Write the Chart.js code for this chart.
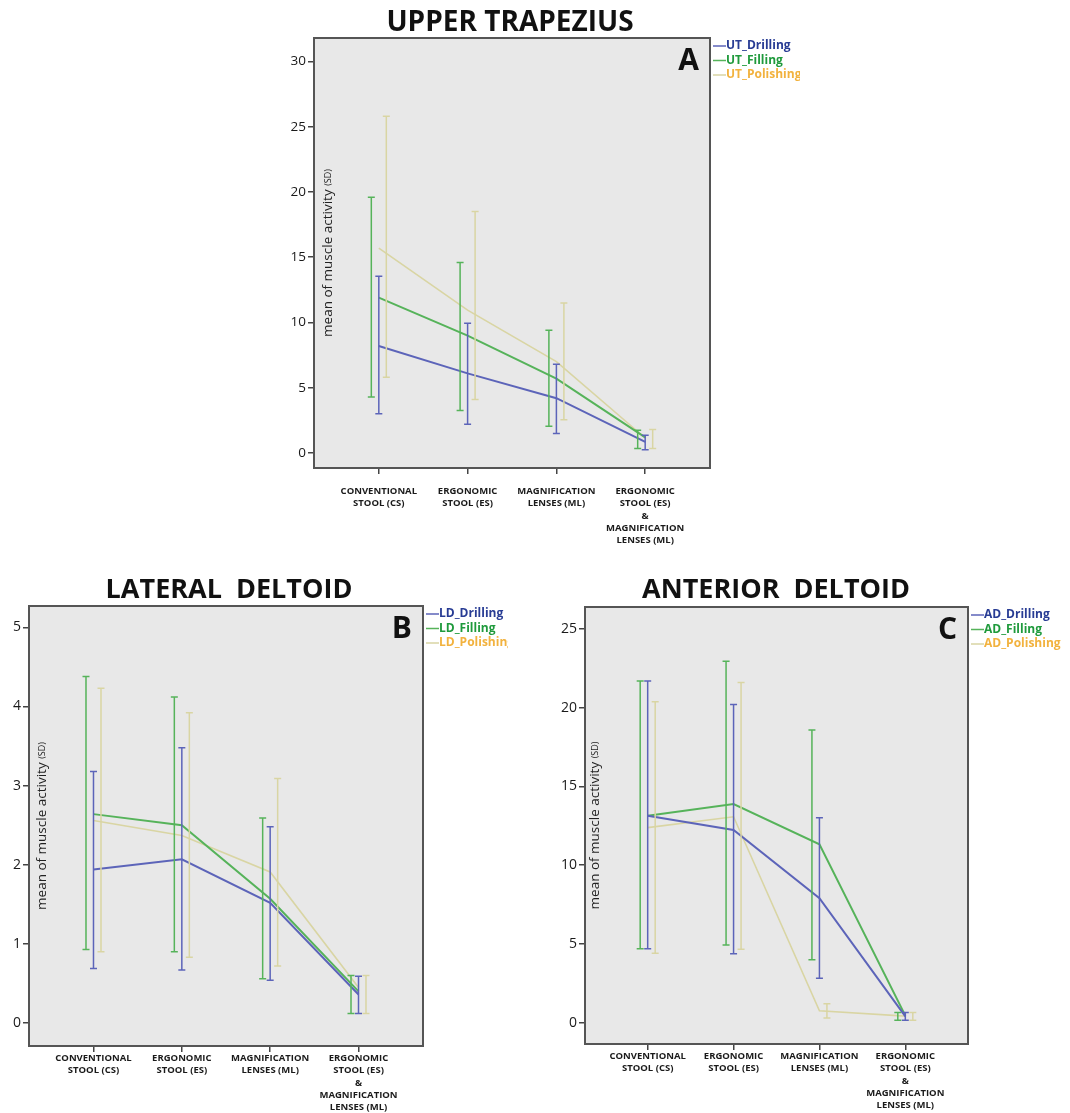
<!DOCTYPE html>
<html>
<head>
<meta charset="utf-8">
<script src="https://cdn.jsdelivr.net/npm/chart.js@4.4.1/dist/chart.umd.min.js"></script>
<style>
    body { margin: 0; background: #ffffff; width: 1070px; height: 1113px; position: relative; overflow: hidden; }
    canvas { position: absolute; }
</style>
</head>
<body>
<canvas id="chartA" width="540" height="560" style="left:260px; top:0px;"></canvas>
<canvas id="chartB" width="508" height="553" style="left:0px; top:560px;"></canvas>
<canvas id="chartC" width="530" height="553" style="left:540px; top:560px;"></canvas>
<script>
// Categories shared by the three panels
const categories = [
    ['CONVENTIONAL', 'STOOL (CS)'],
    ['ERGONOMIC', 'STOOL (ES)'],
    ['MAGNIFICATION', 'LENSES (ML)'],
    ['ERGONOMIC', 'STOOL (ES)', '&', 'MAGNIFICATION', 'LENSES (ML)']
];
const categoryTicks = [0, 1, 2, 3];

// Upper trapezius (A)
const utLabels = ['UT_Drilling', 'UT_Filling', 'UT_Polishing'];
const utDrillMean = [8.2, 6.1, 4.2, 0.85];
const utDrillLow = [3.0, 2.2, 1.5, 0.25];
const utDrillHigh = [13.55, 9.95, 6.8, 1.35];
const utFillMean = [11.9, 9.0, 5.7, 1.2];
const utFillLow = [4.3, 3.25, 2.05, 0.35];
const utFillHigh = [19.6, 14.6, 9.4, 1.75];
const utPolMean = [15.7, 10.95, 7.0, 1.15];
const utPolLow = [5.8, 4.1, 2.55, 0.35];
const utPolHigh = [25.8, 18.5, 11.5, 1.8];
const utTicks = [0, 5, 10, 15, 20, 25, 30];

// Lateral deltoid (B)
const ldLabels = ['LD_Drilling', 'LD_Filling', 'LD_Polishing'];
const ldDrillMean = [1.94, 2.07, 1.52, 0.36];
const ldDrillLow = [0.69, 0.67, 0.54, 0.12];
const ldDrillHigh = [3.18, 3.48, 2.48, 0.59];
const ldFillMean = [2.64, 2.5, 1.57, 0.4];
const ldFillLow = [0.93, 0.9, 0.56, 0.12];
const ldFillHigh = [4.38, 4.12, 2.59, 0.6];
const ldPolMean = [2.56, 2.37, 1.91, 0.45];
const ldPolLow = [0.9, 0.83, 0.72, 0.12];
const ldPolHigh = [4.23, 3.92, 3.09, 0.6];
const ldTicks = [0, 1, 2, 3, 4, 5];

// Anterior deltoid (C)
const adLabels = ['AD_Drilling', 'AD_Filling', 'AD_Polishing'];
const adDrillMean = [13.14, 12.23, 7.9, 0.4];
const adDrillLow = [4.69, 4.37, 2.83, 0.15];
const adDrillHigh = [21.69, 20.19, 13.01, 0.65];
const adFillMean = [13.14, 13.88, 11.32, 0.45];
const adFillLow = [4.69, 4.94, 3.99, 0.15];
const adFillHigh = [21.69, 22.94, 18.57, 0.65];
const adPolMean = [12.38, 13.07, 0.76, 0.42];
const adPolLow = [4.41, 4.67, 0.3, 0.15];
const adPolHigh = [20.36, 21.59, 1.2, 0.65];
const adTicks = [0, 5, 10, 15, 20, 25];

const lineColors = ['#5c64b9', '#56b35a', '#d9d5a3'];
const legendTextColors = ['#283c94', '#1f9a3c', '#f2b23e'];
const lineWidths = [2, 2, 1.6];
const barOffsets = [0, -7.5, 7.5];
const FONT = "'Open Sans', 'DejaVu Sans', sans-serif";

// Background, frame, title, panel letter, y title and legend
const panelPlugin = {
    id: 'panel',
    beforeDraw(chart, args, opts) {
        const { ctx, chartArea: a } = chart;
        ctx.save();
        ctx.fillStyle = '#e8e8e8';
        ctx.fillRect(a.left, a.top, a.right - a.left, a.bottom - a.top);
        ctx.restore();
    },
    afterDraw(chart, args, opts) {
        const { ctx, chartArea: a } = chart;
        ctx.save();
        ctx.strokeStyle = '#555555';
        ctx.lineWidth = 2;
        ctx.strokeRect(a.left, a.top, a.right - a.left, a.bottom - a.top);

        ctx.fillStyle = '#111111';
        ctx.font = `bold ${opts.titleSize}px ${FONT}`;
        ctx.textAlign = 'center';
        ctx.textBaseline = 'middle';
        ctx.fillText(opts.title, opts.titleX, opts.titleY);

        ctx.font = `bold 30px ${FONT}`;
        ctx.textAlign = 'right';
        ctx.textBaseline = 'alphabetic';
        ctx.fillText(opts.letter, a.right - 11, a.top + 32);

        // y title sits inside the frame
        ctx.translate(a.left + opts.yTitleDx, (a.top + a.bottom) / 2);
        ctx.rotate(-Math.PI / 2);
        ctx.fillStyle = '#222222';
        ctx.font = `13.5px ${FONT}`;
        const main = 'mean of muscle activity ';
        const mw = ctx.measureText(main).width;
        ctx.font = `9px ${FONT}`;
        const sw = ctx.measureText('(SD)').width;
        ctx.textAlign = 'left';
        ctx.textBaseline = 'middle';
        ctx.font = `13.5px ${FONT}`;
        ctx.fillText(main, -(mw + sw) / 2, 0);
        ctx.font = `9px ${FONT}`;
        ctx.fillText('(SD)', -(mw + sw) / 2 + mw, 0);
        ctx.setTransform(1, 0, 0, 1, 0, 0);

        // legend
        ctx.font = `bold 12px ${FONT}`;
        ctx.textBaseline = 'middle';
        ctx.textAlign = 'left';
        opts.labels.forEach((lab, i) => {
            const y = a.top + 8 + i * 14.5;
            ctx.strokeStyle = lineColors[i];
            ctx.lineWidth = 1.5;
            ctx.beginPath();
            ctx.moveTo(a.right + 3, y);
            ctx.lineTo(a.right + 16, y);
            ctx.stroke();
            ctx.fillStyle = legendTextColors[i];
            ctx.fillText(lab, a.right + 16, y);
        });
        ctx.restore();
    }
};

// Dodged error bars drawn from the low/high arrays
const errorBarPlugin = {
    id: 'errorBars',
    afterDatasetsDraw(chart) {
        const { ctx, scales: { x, y } } = chart;
        ctx.save();
        chart.data.datasets.forEach((ds, i) => {
            ctx.strokeStyle = lineColors[i];
            ctx.lineWidth = 1.5;
            ds.low.forEach((lo, j) => {
                const px = x.getPixelForValue(j) + barOffsets[i];
                const yl = y.getPixelForValue(lo);
                const yh = y.getPixelForValue(ds.high[j]);
                ctx.beginPath();
                ctx.moveTo(px, yl); ctx.lineTo(px, yh);
                ctx.moveTo(px - 3.5, yl); ctx.lineTo(px + 3.5, yl);
                ctx.moveTo(px - 3.5, yh); ctx.lineTo(px + 3.5, yh);
                ctx.stroke();
            });
        });
        ctx.restore();
    }
};

function makePanel(id, p) {
    const toPts = (arr) => arr.map((v, i) => ({ x: i, y: v }));
    const datasets = p.means.map((m, i) => ({
        label: p.labels[i],
        data: toPts(m),
        low: p.lows[i],
        high: p.highs[i],
        borderColor: lineColors[i],
        borderWidth: lineWidths[i],
        pointRadius: 0,
        tension: 0,
        fill: false
    }));
    // polishing drawn underneath
    datasets[2].order = 3;
    datasets[1].order = 2;
    datasets[0].order = 1;

    return new Chart(document.getElementById(id), {
        type: 'line',
        data: { datasets },
        options: {
            responsive: false,
            animation: false,
            layout: { padding: { top: p.padTop, right: p.padRight, left: 0, bottom: 0 } },
            plugins: {
                legend: { display: false },
                tooltip: { enabled: false },
                panel: {
                    title: p.title, titleX: p.titleX, titleY: p.titleY, titleSize: p.titleSize,
                    letter: p.letter, labels: p.labels, yTitleDx: p.yTitleDx
                }
            },
            scales: {
                x: {
                    type: 'linear',
                    min: -0.73,
                    max: 3.73,
                    afterFit: (s) => { s.height = p.xHeight; },
                    afterBuildTicks: (s) => { s.ticks = categoryTicks.map(v => ({ value: v })); },
                    border: { display: false },
                    grid: { drawOnChartArea: false, drawTicks: true, tickLength: 6, color: '#444444', lineWidth: 1.5 },
                    ticks: {
                        autoSkip: false,
                        maxRotation: 0,
                        padding: p.xPad,
                        color: '#1a1a1a',
                        font: { family: FONT, size: 9.5, weight: 'bold', lineHeight: 1.3 },
                        callback: (v) => categories[v]
                    }
                },
                y: {
                    min: p.yMin,
                    max: p.yMax,
                    afterFit: (s) => { s.width = p.yWidth; },
                    afterBuildTicks: (s) => { s.ticks = p.yTicks.map(v => ({ value: v })); },
                    border: { display: false },
                    grid: { drawOnChartArea: false, drawTicks: true, tickLength: 6, color: '#444444', lineWidth: 1.5 },
                    ticks: {
                        padding: 2,
                        color: '#1a1a1a',
                        font: { family: FONT, size: p.tickSize }
                    }
                }
            }
        },
        plugins: [panelPlugin, errorBarPlugin]
    });
}

makePanel('chartA', {
    title: 'UPPER TRAPEZIUS', titleX: 250, titleY: 23, titleSize: 28, letter: 'A', labels: utLabels,
    means: [utDrillMean, utFillMean, utPolMean],
    lows: [utDrillLow, utFillLow, utPolLow],
    highs: [utDrillHigh, utFillHigh, utPolHigh],
    yTicks: utTicks, yMin: -1.15, yMax: 31.8, tickSize: 13.5,
    padTop: 38, padRight: 90, yWidth: 54, xHeight: 92, yTitleDx: 14, xPad: 11
});

makePanel('chartB', {
    title: 'LATERAL  DELTOID', titleX: 229, titleY: 30, titleSize: 27, letter: 'B', labels: ldLabels,
    means: [ldDrillMean, ldFillMean, ldPolMean],
    lows: [ldDrillLow, ldFillLow, ldPolLow],
    highs: [ldDrillHigh, ldFillHigh, ldPolHigh],
    yTicks: ldTicks, yMin: -0.29, yMax: 5.27, tickSize: 14,
    padTop: 46, padRight: 85, yWidth: 29, xHeight: 67, yTitleDx: 13, xPad: 0
});

makePanel('chartC', {
    title: 'ANTERIOR  DELTOID', titleX: 236, titleY: 30, titleSize: 27, letter: 'C', labels: adLabels,
    means: [adDrillMean, adFillMean, adPolMean],
    lows: [adDrillLow, adFillLow, adPolLow],
    highs: [adDrillHigh, adFillHigh, adPolHigh],
    yTicks: adTicks, yMin: -1.35, yMax: 26.38, tickSize: 14,
    padTop: 47, padRight: 102, yWidth: 45, xHeight: 69, yTitleDx: 10, xPad: 0
});
</script>
</body>
</html>
